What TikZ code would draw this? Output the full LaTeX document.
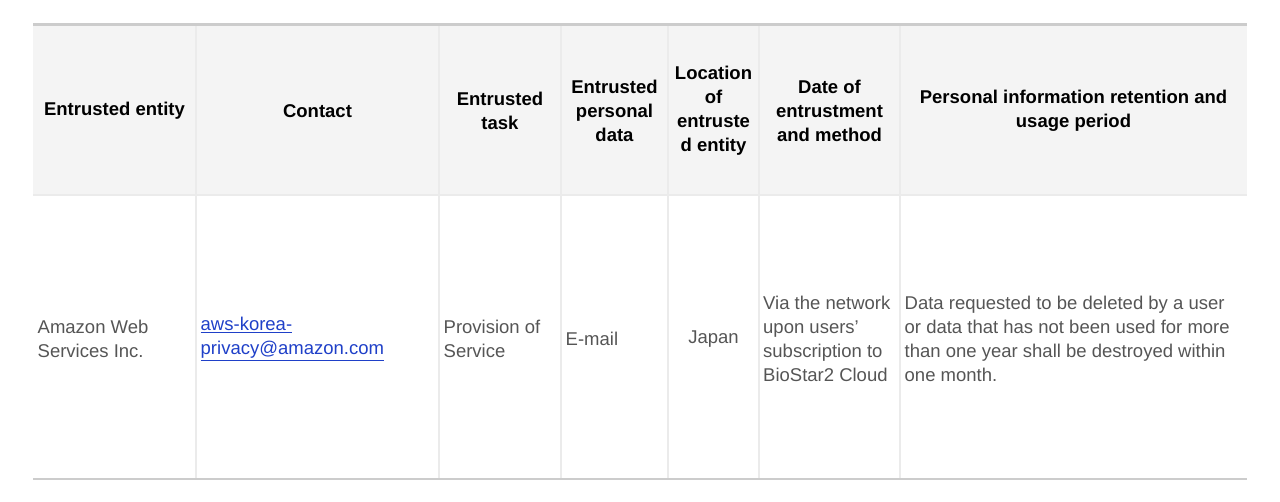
\documentclass[tikz,border=0pt]{standalone}
\usepackage{fontspec}
\setmainfont{Liberation Sans}
\usetikzlibrary{positioning}

\definecolor{headbg}{HTML}{F4F4F4}
\definecolor{rulegray}{HTML}{CCCCCC}
\definecolor{gridgray}{HTML}{EBEBEB}
\definecolor{bodytext}{HTML}{555555}
\definecolor{linkblue}{HTML}{1F40C8}

\begin{document}
\begin{tikzpicture}[x=1pt, y=-1pt,
head/.style={font=\bfseries\fontsize{18.5}{24}\selectfont, align=center, inner sep=0pt, text=black},
cell/.style={font=\fontsize{18.5}{24}\selectfont, align=left, inner sep=0pt, text=bodytext, anchor=west}]

\useasboundingbox (0,0) rectangle (1280,502);

% header background and rules
\fill[headbg] (33,25) rectangle (1247,195);
\foreach \x in {196,439,561,668,759,900}
    \draw[gridgray, line width=2pt] (\x,25) -- (\x,479);
\draw[gridgray, line width=1.5pt] (33,195) -- (1247,195);
\draw[rulegray, line width=3pt] (33,25) -- (1247,25);
\draw[rulegray, line width=2pt] (33,479) -- (1247,479);

% header row
\node[head] (hEntity) at (114.5,111) {Entrusted entity};
\node[head] (hContact) at (317.5,111) {Contact};
\node[head] (hTask) at (500,111) {Entrusted\\task};
\node[head] (hData) at (614.5,111) {Entrusted\\personal\\data};
\node[head] (hLocation) at (713.5,111) {Location\\of\\entruste\\d entity};
\node[head] (hDate) at (829.5,111) {Date of\\entrustment\\and method};
\node[head] (hPeriod) at (1073.5,111) {Personal information retention and\\usage period};

% body row
\node[cell] (cEntity) at (37.5,339) {Amazon Web\\Services Inc.};
\node[cell, text=linkblue] (cContact) at (200.5,339) {\underline{aws-korea-}\\\underline{privacy@amazon.com}};
\node[cell] (cTask) at (443.5,339) {Provision of\\Service};
\node[cell] (cData) at (565.5,339) {E-mail};
\node[cell, anchor=center, align=center] (cLocation) at (713.5,339) {Japan};
\node[cell] (cDate) at (763,339) {Via the network\\upon users’\\subscription to\\BioStar2 Cloud};
\node[cell] (cPeriod) at (904.5,339) {Data requested to be deleted by a user\\or data that has not been used for more\\than one year shall be destroyed within\\one month.};

\end{tikzpicture}
\end{document}
